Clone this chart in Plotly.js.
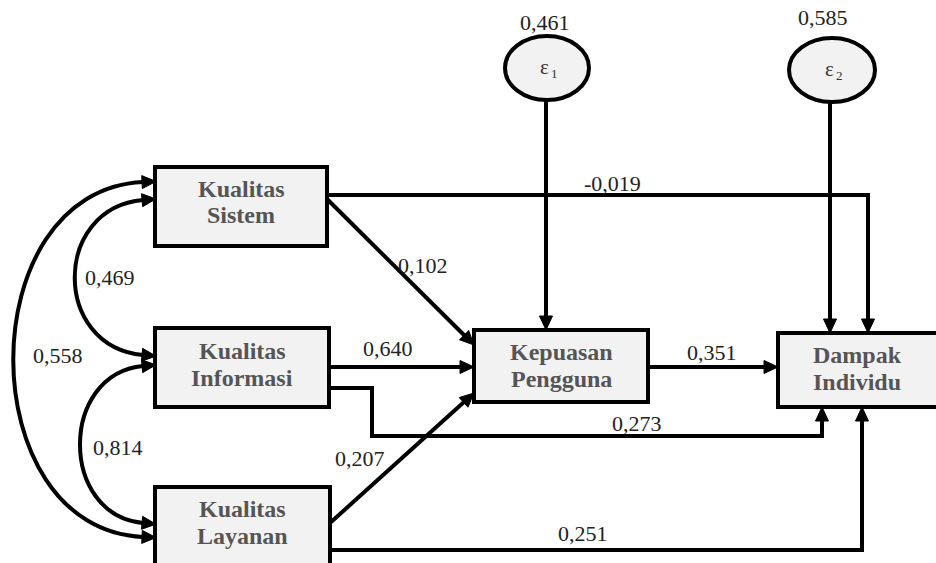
<!DOCTYPE html>
<html>
<head>
<meta charset="utf-8">
<script src="https://cdn.plot.ly/plotly-3.0.1.min.js"></script>
</head>
<body style="margin:0;background:#fff">
<div id="chart" style="width:936px;height:563px"></div>
<script>
// ---- data ----
const nodeLabels = [['Kualitas', 'Sistem'], ['Kualitas', 'Informasi'], ['Kualitas', 'Layanan'], ['Kepuasan', 'Pengguna'], ['Dampak', 'Individu']];
const errorSymbols = ['ε', 'ε'];
const errorIndex = ['1', '2'];
const errorVariances = [0.461, 0.585];
// paths: Sistem->Dampak, Sistem->Kepuasan, Informasi->Kepuasan, Informasi->Dampak, Layanan->Kepuasan, Layanan->Dampak, Kepuasan->Dampak
const pathCoefficients = [-0.019, 0.102, 0.640, 0.273, 0.207, 0.251, 0.351];
// correlations: Sistem-Informasi, Sistem-Layanan, Informasi-Layanan
const correlations = [0.469, 0.558, 0.814];

const fmt = v => v.toFixed(3).replace('.', ',');
const SERIF = 'Liberation Serif';

// ---- layout geometry ----
const boxes = [
  {x0:155, x1:327, y0:167, y1:246, cx:241, cy:[189, 215]},
  {x0:155, x1:329, y0:328, y1:407, cx:242, cy:[351, 378]},
  {x0:155, x1:330, y0:487, y1:575, cx:242, cy:[509, 536]},
  {x0:474, x1:648, y0:330, y1:402, cx:561, cy:[352, 379]},
  {x0:778, x1:945, y0:333, y1:407, cx:857, cy:[355, 382]}
];
const ellipses = [
  {cx:547, cy:68, rx:42, ry:32},
  {cx:832, cy:70, rx:43, ry:32}
];

const shapes = [];
const annotations = [];
const LW = 4;

function line(path){ shapes.push({type:'path', path:path, line:{color:'#000', width:LW}, layer:'above'}); }
function head(tx, ty, fx, fy){
  const dx = tx - fx, dy = ty - fy, n = Math.hypot(dx, dy);
  const ux = dx/n, uy = dy/n, L = 14, W = 6.5;
  const bx = tx - ux*L, by = ty - uy*L;
  const px = -uy, py = ux;
  shapes.push({type:'path', path:`M${tx},${ty} L${bx+px*W},${by+py*W} L${bx-px*W},${by-py*W} Z`,
    fillcolor:'#000', line:{color:'#000', width:1}, layer:'above'});
  return [tx - ux*(L-2), ty - uy*(L-2)];
}
function arrowPath(points){
  const n = points.length;
  const [tx, ty] = points[n-1];
  const [fx, fy] = points[n-2];
  const [ex, ey] = head(tx, ty, fx, fy);
  let p = `M${points[0][0]},${points[0][1]}`;
  for (let i = 1; i < n-1; i++) p += ` L${points[i][0]},${points[i][1]}`;
  p += ` L${ex},${ey}`;
  line(p);
}
function curve(y0, y1, c, off){
  const xe = 143;
  line(`M${xe},${y0} C${c},${y0+off} ${c},${y1-off} ${xe},${y1}`);
  head(156, y0 - off*12/Math.hypot(xe-c, off), c, y0+off);
  head(156, y1 + off*12/Math.hypot(xe-c, off), c, y1-off);
}
function label(x, y, text, size, color, bold){
  annotations.push({x:x, y:y, xref:'x', yref:'y', text: bold ? '<b>'+text+'</b>' : text, showarrow:false,
    font:{family:SERIF, size:size, color:color}, xanchor:'center', yanchor:'middle'});
}

// boxes
boxes.forEach((b, i) => {
  shapes.push({type:'rect', x0:b.x0, x1:b.x1, y0:b.y0, y1:b.y1, fillcolor:'#f2f2f2', line:{color:'#000', width:LW}, layer:'below'});
  nodeLabels[i].forEach((t, k) => label(b.cx, b.cy[k], t, 24, '#555', true));
});
// ellipses
ellipses.forEach((e, i) => {
  shapes.push({type:'circle', x0:e.cx-e.rx, x1:e.cx+e.rx, y0:e.cy-e.ry, y1:e.cy+e.ry, fillcolor:'#f2f2f2', line:{color:'#000', width:LW}, layer:'below'});
  label(e.cx - 3, e.cy - 1, errorSymbols[i], 21, '#333', false);
  label(e.cx + 7, e.cy + 5, errorIndex[i], 13, '#333', false);
});

// error arrows
arrowPath([[546, 100], [546, 330]]);
arrowPath([[830, 102], [830, 333]]);

// structural paths
arrowPath([[327, 195], [868, 195], [868, 333]]);          // Sistem -> Dampak
arrowPath([[327, 199], [474, 345]]);                       // Sistem -> Kepuasan
arrowPath([[329, 367], [474, 367]]);                       // Informasi -> Kepuasan
arrowPath([[329, 388], [372, 388], [372, 436], [822, 436], [822, 407]]); // Informasi -> Dampak
arrowPath([[330, 523], [474, 393]]);                       // Layanan -> Kepuasan
arrowPath([[330, 550], [862, 550], [862, 407]]);           // Layanan -> Dampak
arrowPath([[648, 367], [778, 367]]);                       // Kepuasan -> Dampak

// correlations (curved double arrows)
curve(200, 355, 52, 8);   // Sistem - Informasi
curve(182, 537, -30, 8);  // Sistem - Layanan
curve(366, 523, 59, 8);   // Informasi - Layanan

// coefficient labels
const numFont = 22, numColor = '#222';
label(545, 22, fmt(errorVariances[0]), numFont, numColor);
label(823, 17, fmt(errorVariances[1]), numFont, numColor);
const coefPos = [[612,183],[423,265],[388,348],[637,423],[360,458],[583,533],[712,352]];
pathCoefficients.forEach((v, i) => label(coefPos[i][0], coefPos[i][1], fmt(v), numFont, numColor));
const corPos = [[110,277],[58,355],[118,447]];
correlations.forEach((v, i) => label(corPos[i][0], corPos[i][1], fmt(v), numFont, numColor));

const layout = {
  width:936, height:563,
  margin:{l:0, r:0, t:0, b:0},
  paper_bgcolor:'#fff', plot_bgcolor:'#fff',
  font:{family:SERIF},
  xaxis:{range:[0,936], visible:false, fixedrange:true},
  yaxis:{range:[563,0], visible:false, fixedrange:true},
  shapes:shapes, annotations:annotations, showlegend:false
};
Plotly.newPlot('chart', [], layout, {displayModeBar:false});
</script>
</body>
</html>
